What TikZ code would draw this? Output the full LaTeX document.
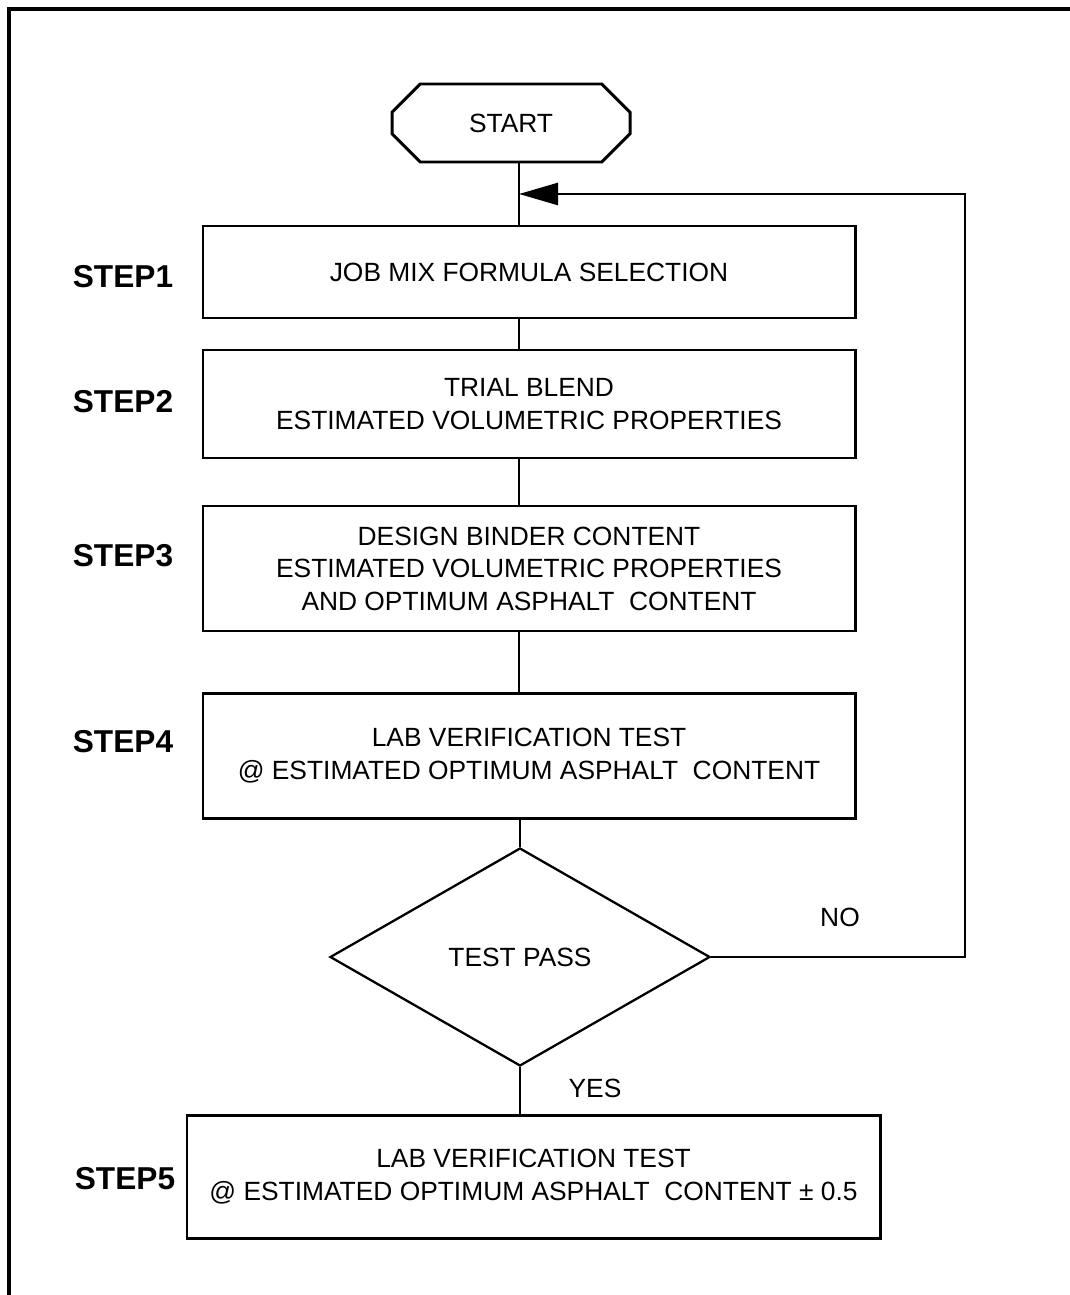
\documentclass[tikz,border=0pt]{standalone}
\usepackage{fontspec}
\setmainfont{Liberation Sans}
\usetikzlibrary{shapes.geometric,shapes.misc,arrows.meta}
\pgfdeclarelayer{bg}
\pgfsetlayers{bg,main}
\tikzset{
    every node/.style={inner sep=0mm, align=center, font=\fontsize{15}{18.5}\selectfont}
}
\tikzset{
    stepbox/.style={rectangle, draw, line width=1.7pt, fill=white},
    startbox/.style={chamfered rectangle, chamfered rectangle xsep=0.36cm, chamfered rectangle ysep=0.38cm, draw, line width=1.7pt, fill=white},
    testbox/.style={diamond, draw, line width=1.3pt, fill=white, minimum width=7.6cm, minimum height=4.36cm},
    steplabel/.style={font=\fontsize{18}{20}\selectfont\bfseries},
    flowline/.style={line width=1.2pt}
}

\begin{document}
\begin{tikzpicture}
    \useasboundingbox (0cm, 0cm) rectangle (21.4cm, -25.9cm);

    \coordinate (frmtl) at (0.18cm, -0.18cm);
    \coordinate (frmtr) at (21.4cm, -0.18cm);
    \coordinate (frmbl) at (0.18cm, -25.9cm);
    \draw[line width=1.8pt] (frmtr) -- (frmtl) -- (frmbl);

    \node (start) [startbox, minimum width=4.76cm, minimum height=1.56cm] at (10.22cm, -2.46cm) {START};
    \node (jmf) [stepbox, minimum width=13.04cm, minimum height=1.84cm] at (10.58cm, -5.44cm) {JOB MIX FORMULA SELECTION};
    \node (trial) [stepbox, minimum width=13.04cm, minimum height=2.16cm] at (10.58cm, -8.08cm) {TRIAL BLEND\\ESTIMATED VOLUMETRIC PROPERTIES};
    \node (design) [stepbox, minimum width=13.04cm, minimum height=2.50cm] at (10.58cm, -11.37cm) {DESIGN BINDER CONTENT\\ESTIMATED VOLUMETRIC PROPERTIES\\AND OPTIMUM ASPHALT\ \ CONTENT};
    \node (labtest) [stepbox, minimum width=13.04cm, minimum height=2.50cm] at (10.58cm, -15.11cm) {LAB VERIFICATION TEST\\@ ESTIMATED OPTIMUM ASPHALT\ \ CONTENT};
    \node (test) [testbox] at (10.40cm, -19.14cm) {TEST PASS};
    \node (final) [stepbox, minimum width=13.86cm, minimum height=2.46cm] at (10.67cm, -23.53cm) {LAB VERIFICATION TEST\\@ ESTIMATED OPTIMUM ASPHALT\ \ CONTENT ± 0.5};

    \node (s1) [steplabel] at (2.46cm, -5.54cm) {STEP1};
    \node (s2) [steplabel] at (2.46cm, -8.04cm) {STEP2};
    \node (s3) [steplabel] at (2.46cm, -11.12cm) {STEP3};
    \node (s4) [steplabel] at (2.46cm, -14.84cm) {STEP4};
    \node (s5) [steplabel] at (2.50cm, -23.58cm) {STEP5};

    \node (no) at (16.80cm, -18.34cm) {NO};
    \node (yes) at (11.90cm, -21.76cm) {YES};

    \coordinate (trk) at (10.38cm, 0cm);
    \coordinate (fbr) at (19.30cm, -3.88cm);
    \coordinate (fbin) at (10.38cm, -3.88cm);

    \begin{pgfonlayer}{bg}
        \draw[flowline] (start.south -| trk) -- (jmf.north -| trk);
        \draw[flowline] (jmf.south -| trk) -- (trial.north -| trk);
        \draw[flowline] (trial.south -| trk) -- (design.north -| trk);
        \draw[flowline] (design.south -| trk) -- (labtest.north -| trk);
        \draw[flowline] (labtest.south -| test) -- (test.north);
        \draw[flowline] (test.south) -- (final.north -| test);
    \end{pgfonlayer}

    % NO branch back to step 1
    \draw[line width=1.5pt, -{Triangle[length=0.78cm, width=0.44cm]}] (test.east) -- (test.east -| fbr) -- (fbr) -- (fbin);
\end{tikzpicture}
\end{document}
